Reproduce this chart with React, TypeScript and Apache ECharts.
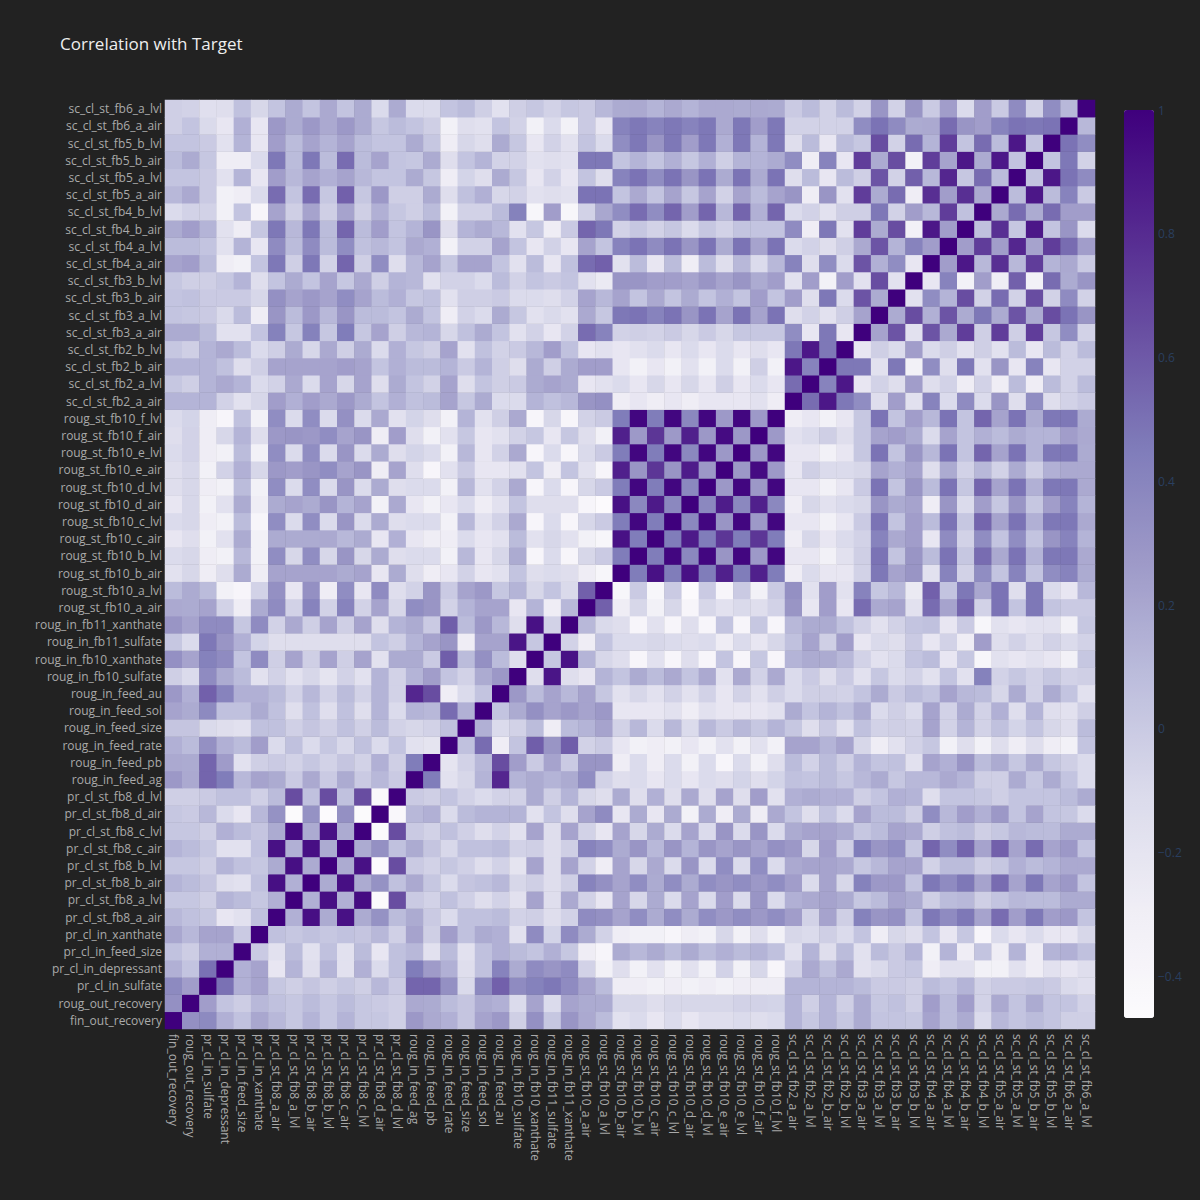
import React, { useEffect, useRef } from "react";
import * as echarts from "echarts";

const labels: string[] = [
  "fin_out_recovery", "roug_out_recovery", "pr_cl_in_sulfate", "pr_cl_in_depressant", "pr_cl_in_feed_size", "pr_cl_in_xanthate",
  "pr_cl_st_fb8_a_air", "pr_cl_st_fb8_a_lvl", "pr_cl_st_fb8_b_air", "pr_cl_st_fb8_b_lvl", "pr_cl_st_fb8_c_air", "pr_cl_st_fb8_c_lvl",
  "pr_cl_st_fb8_d_air", "pr_cl_st_fb8_d_lvl", "roug_in_feed_ag", "roug_in_feed_pb", "roug_in_feed_rate", "roug_in_feed_size",
  "roug_in_feed_sol", "roug_in_feed_au", "roug_in_fb10_sulfate", "roug_in_fb10_xanthate", "roug_in_fb11_sulfate", "roug_in_fb11_xanthate",
  "roug_st_fb10_a_air", "roug_st_fb10_a_lvl", "roug_st_fb10_b_air", "roug_st_fb10_b_lvl", "roug_st_fb10_c_air", "roug_st_fb10_c_lvl",
  "roug_st_fb10_d_air", "roug_st_fb10_d_lvl", "roug_st_fb10_e_air", "roug_st_fb10_e_lvl", "roug_st_fb10_f_air", "roug_st_fb10_f_lvl",
  "sc_cl_st_fb2_a_air", "sc_cl_st_fb2_a_lvl", "sc_cl_st_fb2_b_air", "sc_cl_st_fb2_b_lvl", "sc_cl_st_fb3_a_air", "sc_cl_st_fb3_a_lvl",
  "sc_cl_st_fb3_b_air", "sc_cl_st_fb3_b_lvl", "sc_cl_st_fb4_a_air", "sc_cl_st_fb4_a_lvl", "sc_cl_st_fb4_b_air", "sc_cl_st_fb4_b_lvl",
  "sc_cl_st_fb5_a_air", "sc_cl_st_fb5_a_lvl", "sc_cl_st_fb5_b_air", "sc_cl_st_fb5_b_lvl", "sc_cl_st_fb6_a_air", "sc_cl_st_fb6_a_lvl",
];

// Lower triangle of the correlation matrix: row j holds correlations with columns 0..j-1
const corrLower: number[][] = [
  [],
  [0.33],
  [0.37, 0.25],
  [0.15, 0.04, 0.5],
  [0.05, -0.02, 0.15, 0.15],
  [0.2, 0.11, 0.22, 0.22, 0.0],
  [0.11, 0.06, 0.02, -0.22, -0.17, 0.06],
  [0.02, 0.02, -0.03, 0.13, 0.09, 0.02, 0.15],
  [0.13, 0.09, 0.03, -0.14, -0.17, 0.06, 0.93, 0.15],
  [0.02, 0.02, -0.03, 0.13, 0.06, 0.02, 0.18, 0.93, 0.18],
  [0.13, 0.09, 0.02, -0.17, -0.17, 0.05, 0.92, 0.15, 0.93, 0.18],
  [0.02, 0.02, -0.03, 0.15, 0.09, 0.03, 0.18, 0.95, 0.18, 0.92, 0.18],
  [0.02, 0.0, 0.11, -0.11, -0.22, 0.11, 0.32, -0.45, 0.32, -0.46, 0.33, -0.45],
  [-0.03, -0.03, 0.0, 0.06, 0.06, -0.04, 0.09, 0.65, 0.06, 0.65, 0.06, 0.65, -0.42],
  [0.28, 0.19, 0.55, 0.45, 0.11, 0.22, 0.18, 0.0, 0.19, 0.0, 0.18, 0.0, 0.11, 0.0],
  [0.19, 0.18, 0.55, 0.26, -0.17, -0.03, 0.0, -0.05, 0.02, -0.05, 0.03, -0.05, 0.15, -0.03, 0.45],
  [0.15, 0.09, 0.33, 0.15, 0.09, 0.25, -0.11, 0.06, -0.11, 0.02, -0.09, 0.06, -0.11, 0.04, -0.17, -0.2],
  [0.03, 0.03, -0.1, -0.14, -0.17, 0.06, 0.06, -0.04, 0.03, -0.04, 0.06, -0.04, 0.09, -0.05, -0.08, -0.05, 0.06],
  [0.22, 0.18, 0.37, 0.06, 0.06, 0.18, 0.06, -0.14, 0.06, -0.14, 0.06, -0.14, 0.13, -0.11, 0.13, 0.11, 0.52, 0.15],
  [0.28, 0.15, 0.57, 0.41, 0.15, 0.15, 0.09, -0.05, 0.11, -0.05, 0.09, -0.05, 0.13, -0.05, 0.82, 0.65, -0.28, -0.11, 0.04],
  [-0.03, -0.11, 0.36, 0.18, 0.09, -0.17, -0.05, -0.17, -0.08, -0.2, -0.05, -0.17, 0.13, -0.05, 0.13, 0.25, 0.04, -0.05, 0.18, 0.28],
  [0.33, 0.22, 0.42, 0.36, 0.04, 0.36, -0.03, 0.22, -0.03, 0.22, -0.03, 0.22, -0.17, 0.18, 0.18, 0.0, 0.58, 0.09, 0.33, 0.09, -0.14],
  [0.02, -0.11, 0.47, 0.3, 0.15, -0.06, -0.14, -0.14, -0.14, -0.14, -0.14, -0.14, 0.04, -0.03, 0.13, 0.22, 0.3, -0.28, 0.22, 0.22, 0.9, 0.02],
  [0.3, 0.22, 0.36, 0.36, 0.02, 0.36, -0.05, 0.19, -0.03, 0.22, -0.03, 0.22, -0.14, 0.13, 0.18, 0.0, 0.58, 0.09, 0.28, 0.11, -0.14, 0.92, -0.05],
  [0.19, 0.18, 0.22, -0.05, -0.28, 0.18, 0.36, -0.05, 0.41, -0.05, 0.41, -0.05, 0.22, -0.08, 0.35, 0.3, -0.05, 0.13, 0.22, 0.22, -0.22, 0.13, -0.28, 0.11],
  [0.09, 0.18, 0.09, -0.33, -0.39, -0.05, 0.33, -0.22, 0.33, -0.28, 0.35, -0.22, 0.36, -0.14, -0.05, 0.3, 0.0, 0.22, 0.28, 0.02, 0.13, -0.08, 0.04, -0.1, 0.57],
  [-0.17, -0.08, -0.28, -0.14, 0.18, -0.28, 0.22, 0.22, 0.22, 0.22, 0.18, 0.22, -0.22, 0.18, -0.14, -0.28, -0.22, -0.05, -0.22, -0.17, 0.04, -0.14, -0.11, -0.14, -0.28, -0.4],
  [-0.11, -0.08, -0.28, -0.33, 0.11, -0.33, 0.35, -0.08, 0.35, -0.08, 0.3, -0.08, 0.18, -0.14, -0.11, -0.11, -0.33, 0.11, -0.22, -0.08, 0.18, -0.39, -0.11, -0.39, -0.08, 0.0, 0.45],
  [-0.22, -0.14, -0.33, -0.17, 0.18, -0.33, 0.18, 0.18, 0.18, 0.19, 0.11, 0.18, -0.22, 0.15, -0.22, -0.28, -0.28, -0.11, -0.22, -0.17, 0.09, -0.17, -0.08, -0.17, -0.33, -0.4, 0.92, 0.45],
  [-0.11, -0.08, -0.28, -0.33, 0.09, -0.39, 0.35, -0.11, 0.35, -0.11, 0.3, -0.11, 0.18, -0.14, -0.11, -0.11, -0.33, 0.11, -0.17, -0.05, 0.19, -0.39, -0.11, -0.39, -0.08, 0.0, 0.45, 0.97, 0.45],
  [-0.22, -0.08, -0.33, -0.17, 0.18, -0.28, 0.18, 0.22, 0.18, 0.3, 0.13, 0.22, -0.33, 0.19, -0.22, -0.33, -0.22, -0.11, -0.28, -0.17, 0.04, -0.14, -0.14, -0.14, -0.39, -0.46, 0.92, 0.38, 0.88, 0.38],
  [-0.14, -0.08, -0.28, -0.33, 0.09, -0.33, 0.35, -0.11, 0.35, -0.11, 0.3, -0.11, 0.18, -0.14, -0.11, -0.11, -0.33, 0.11, -0.17, -0.05, 0.19, -0.39, -0.11, -0.39, -0.08, 0.0, 0.45, 0.97, 0.45, 0.97, 0.38],
  [-0.14, -0.08, -0.33, -0.05, 0.15, -0.08, 0.28, 0.25, 0.3, 0.35, 0.22, 0.3, -0.28, 0.22, -0.14, -0.39, -0.17, 0.0, -0.22, -0.22, -0.17, 0.04, -0.28, 0.04, -0.17, -0.39, 0.85, 0.3, 0.75, 0.3, 0.87, 0.28],
  [-0.11, -0.05, -0.28, -0.33, 0.09, -0.33, 0.35, -0.11, 0.35, -0.11, 0.3, -0.11, 0.18, -0.14, -0.06, -0.11, -0.33, 0.11, -0.22, -0.05, 0.19, -0.39, -0.11, -0.39, -0.1, 0.0, 0.45, 0.97, 0.45, 0.97, 0.38, 0.97, 0.28],
  [-0.14, -0.05, -0.28, -0.08, 0.13, -0.14, 0.28, 0.3, 0.28, 0.35, 0.22, 0.3, -0.28, 0.25, -0.14, -0.33, -0.17, 0.02, -0.22, -0.17, -0.05, 0.02, -0.22, 0.02, -0.14, -0.33, 0.85, 0.27, 0.75, 0.27, 0.85, 0.28, 0.95, 0.28],
  [-0.11, -0.06, -0.28, -0.39, 0.06, -0.33, 0.35, -0.11, 0.35, -0.11, 0.33, -0.11, 0.19, -0.17, -0.06, -0.14, -0.33, 0.13, -0.17, -0.03, 0.19, -0.39, -0.08, -0.39, -0.05, 0.0, 0.45, 0.97, 0.45, 0.97, 0.38, 0.97, 0.27, 0.97, 0.27],
  [0.13, 0.13, 0.13, -0.05, -0.17, -0.08, 0.25, 0.15, 0.25, 0.19, 0.28, 0.18, 0.04, 0.15, 0.06, 0.09, 0.22, 0.02, 0.18, -0.11, -0.11, 0.13, 0.06, 0.11, 0.3, 0.33, -0.28, -0.22, -0.28, -0.22, -0.28, -0.22, -0.22, -0.22, -0.17, -0.28],
  [0.02, -0.03, 0.13, 0.19, 0.13, -0.11, -0.05, 0.19, -0.11, 0.22, -0.08, 0.22, -0.14, 0.18, 0.04, -0.05, 0.22, -0.14, 0.04, -0.03, 0.0, 0.18, 0.22, 0.18, -0.22, -0.17, -0.11, -0.22, -0.08, -0.22, -0.08, -0.22, -0.03, -0.22, -0.11, -0.22, 0.52],
  [0.13, 0.13, 0.13, 0.06, -0.14, -0.03, 0.22, 0.22, 0.22, 0.22, 0.25, 0.22, 0.04, 0.15, 0.09, 0.09, 0.13, 0.0, 0.13, -0.03, -0.14, 0.18, -0.03, 0.18, 0.25, 0.25, -0.22, -0.33, -0.22, -0.33, -0.17, -0.33, -0.11, -0.33, -0.03, -0.33, 0.89, 0.41],
  [0.02, -0.03, 0.13, 0.19, 0.09, -0.11, -0.03, 0.18, -0.08, 0.19, -0.03, 0.18, -0.11, 0.15, 0.02, -0.03, 0.22, -0.17, 0.06, -0.05, 0.0, 0.11, 0.25, 0.06, -0.22, -0.17, -0.22, -0.17, -0.11, -0.22, -0.11, -0.22, -0.11, -0.22, -0.14, -0.22, 0.47, 0.89, 0.47],
  [0.18, 0.18, 0.09, -0.17, -0.17, 0.04, 0.42, 0.02, 0.42, 0.02, 0.45, 0.02, 0.22, -0.03, 0.11, 0.13, -0.08, 0.06, 0.18, 0.04, -0.17, -0.05, -0.22, -0.05, 0.52, 0.41, -0.05, -0.03, -0.05, 0.0, -0.08, 0.0, -0.08, 0.02, 0.02, 0.02, 0.35, -0.22, 0.47, -0.22],
  [0.04, 0.02, 0.0, -0.1, 0.09, -0.28, 0.3, 0.09, 0.28, 0.11, 0.3, 0.09, 0.09, 0.04, 0.18, 0.04, -0.28, -0.05, -0.11, 0.18, 0.02, -0.17, -0.1, -0.17, 0.19, 0.02, 0.47, 0.49, 0.41, 0.49, 0.3, 0.49, 0.22, 0.49, 0.22, 0.49, -0.14, -0.05, -0.17, -0.03, 0.22],
  [0.04, 0.06, 0.0, 0.0, 0.0, -0.08, 0.33, 0.22, 0.28, 0.22, 0.35, 0.22, 0.09, 0.15, 0.02, 0.06, -0.17, -0.03, -0.03, 0.0, -0.11, -0.11, -0.14, -0.05, 0.22, 0.11, 0.22, 0.04, 0.19, 0.04, 0.18, 0.04, 0.15, 0.04, 0.25, 0.04, 0.25, -0.14, 0.47, -0.11, 0.62, 0.18],
  [0.02, -0.03, -0.03, 0.02, 0.13, -0.14, 0.04, 0.18, 0.04, 0.22, 0.02, 0.19, -0.03, 0.13, 0.11, -0.17, -0.05, -0.05, -0.11, 0.09, -0.05, 0.04, 0.0, 0.04, -0.17, -0.25, 0.3, 0.3, 0.25, 0.25, 0.22, 0.3, 0.22, 0.3, 0.18, 0.25, -0.17, 0.25, -0.33, 0.25, -0.17, 0.65, -0.17],
  [0.22, 0.25, 0.09, -0.28, -0.33, 0.04, 0.47, -0.03, 0.47, -0.05, 0.55, -0.03, 0.35, -0.14, 0.11, 0.22, 0.02, 0.22, 0.22, 0.04, -0.17, 0.09, -0.22, 0.06, 0.52, 0.57, -0.17, 0.09, -0.22, 0.09, -0.28, 0.09, -0.14, 0.11, -0.11, 0.11, 0.41, -0.14, 0.35, -0.11, 0.62, 0.15, 0.35, -0.22],
  [0.09, 0.09, 0.04, -0.17, 0.13, -0.22, 0.36, 0.09, 0.36, 0.09, 0.35, 0.06, 0.11, 0.04, 0.19, 0.15, -0.33, -0.05, -0.05, 0.22, 0.04, -0.22, -0.05, -0.22, 0.22, 0.04, 0.41, 0.49, 0.36, 0.49, 0.3, 0.49, 0.18, 0.49, 0.22, 0.49, -0.11, -0.05, -0.14, -0.03, 0.19, 0.62, 0.13, 0.41, 0.25],
  [0.18, 0.25, 0.13, -0.17, -0.28, 0.02, 0.47, 0.11, 0.47, 0.09, 0.55, 0.09, 0.25, 0.04, 0.13, 0.3, -0.14, 0.13, 0.18, 0.11, -0.17, 0.02, -0.28, 0.0, 0.55, 0.47, -0.05, 0.02, -0.05, 0.02, -0.11, 0.02, -0.05, 0.04, 0.04, 0.04, 0.36, -0.28, 0.47, -0.17, 0.72, 0.18, 0.65, -0.33, 0.89, 0.25],
  [-0.11, -0.05, -0.05, -0.33, 0.04, -0.39, 0.22, -0.03, 0.22, -0.03, 0.22, -0.03, 0.15, 0.02, -0.03, 0.09, -0.33, -0.05, -0.05, 0.09, 0.42, -0.4, 0.25, -0.4, -0.05, 0.2, 0.35, 0.52, 0.35, 0.55, 0.25, 0.55, 0.11, 0.55, 0.15, 0.55, -0.11, -0.05, -0.17, -0.03, -0.03, 0.47, -0.05, 0.25, 0.11, 0.72, 0.06],
  [0.11, 0.19, 0.0, -0.33, -0.28, -0.11, 0.52, 0.04, 0.52, 0.02, 0.57, 0.02, 0.28, -0.03, -0.03, 0.18, -0.14, 0.06, 0.15, -0.08, -0.05, -0.17, -0.14, -0.17, 0.49, 0.49, 0.04, 0.19, 0.04, 0.22, 0.02, 0.22, -0.05, 0.22, 0.09, 0.22, 0.3, -0.28, 0.3, -0.17, 0.72, 0.18, 0.52, -0.28, 0.78, 0.25, 0.78, 0.19],
  [0.04, 0.04, 0.0, -0.17, 0.13, -0.22, 0.25, 0.11, 0.22, 0.15, 0.22, 0.11, 0.04, 0.04, 0.18, 0.02, -0.28, -0.06, -0.14, 0.18, 0.02, -0.22, -0.05, -0.22, 0.04, -0.14, 0.41, 0.49, 0.35, 0.49, 0.3, 0.49, 0.18, 0.49, 0.18, 0.49, -0.14, 0.09, -0.22, 0.09, -0.03, 0.62, -0.05, 0.57, 0.11, 0.82, 0.02, 0.52, 0.09],
  [0.09, 0.18, 0.02, -0.28, -0.28, -0.11, 0.47, 0.09, 0.47, 0.09, 0.52, 0.09, 0.22, 0.04, 0.02, 0.18, -0.14, 0.04, 0.13, -0.05, -0.05, -0.17, -0.14, -0.17, 0.47, 0.47, 0.04, 0.13, 0.04, 0.15, 0.02, 0.15, -0.03, 0.13, 0.13, 0.18, 0.35, -0.28, 0.41, -0.22, 0.72, 0.18, 0.65, -0.33, 0.72, 0.22, 0.89, 0.18, 0.89, 0.04],
  [0.04, 0.04, 0.0, -0.17, 0.13, -0.22, 0.25, 0.09, 0.22, 0.13, 0.22, 0.09, 0.04, 0.04, 0.18, 0.02, -0.28, -0.08, -0.14, 0.18, 0.02, -0.22, -0.05, -0.17, 0.04, -0.11, 0.35, 0.47, 0.3, 0.47, 0.25, 0.47, 0.15, 0.47, 0.13, 0.47, -0.14, 0.09, -0.22, 0.09, 0.02, 0.65, -0.05, 0.52, 0.13, 0.72, 0.04, 0.52, 0.09, 0.89, 0.04],
  [-0.03, 0.04, -0.1, -0.22, 0.15, -0.22, 0.28, 0.18, 0.28, 0.19, 0.28, 0.18, 0.02, 0.09, 0.04, -0.03, -0.33, -0.14, -0.17, 0.04, -0.05, -0.33, -0.11, -0.33, 0.0, -0.22, 0.41, 0.47, 0.41, 0.47, 0.41, 0.47, 0.19, 0.47, 0.25, 0.47, -0.05, -0.05, -0.05, -0.05, 0.35, 0.49, 0.36, 0.18, 0.19, 0.52, 0.3, 0.25, 0.41, 0.49, 0.47, 0.49],
  [-0.03, -0.05, -0.15, -0.14, 0.06, -0.08, 0.04, 0.18, 0.04, 0.19, 0.04, 0.18, -0.11, 0.18, -0.11, -0.11, 0.04, 0.09, -0.03, -0.17, -0.03, 0.02, -0.05, 0.02, 0.0, 0.11, 0.18, 0.19, 0.13, 0.19, 0.13, 0.19, 0.19, 0.18, 0.19, 0.18, 0.0, 0.09, -0.05, 0.09, -0.05, 0.3, -0.05, 0.3, 0.0, 0.25, -0.11, 0.25, 0.0, 0.36, -0.05, 0.35, 0.11],
];

const colorTicks: number[] = [-0.4, -0.2, 0, 0.2, 0.4, 0.6, 0.8, 1];
const scaleMin = -0.467;
const scaleMax = 1;
const purples: string[] = [
  "rgb(252,251,253)", "rgb(239,237,245)", "rgb(218,218,235)", "rgb(188,189,220)", "rgb(158,154,200)",
  "rgb(128,125,186)", "rgb(106,81,163)", "rgb(84,39,143)", "rgb(63,0,125)",
];

function buildCells(): [number, number, number][] {
  const cells: [number, number, number][] = [];
  const n = labels.length;
  for (let j = 0; j < n; j++) {
    for (let i = 0; i < n; i++) {
      let v = 1;
      if (i < j) v = corrLower[j][i];
      else if (i > j) v = corrLower[i][j];
      cells.push([i, j, v]);
    }
  }
  return cells;
}

const FONT = "'Open Sans', 'Noto Sans', sans-serif";

export default function App() {
  const ref = useRef<HTMLDivElement>(null);
  useEffect(() => {
    document.body.style.margin = "0";
    document.body.style.background = "#222222";
    if (!ref.current) return;
    const chart = echarts.init(ref.current, undefined, { renderer: "svg" });
    const gridLeft = 165, gridTop = 100, gridW = 930, gridH = 929;
    const cbLeft = 1124, cbTop = 110, cbW = 30, cbH = 908;
    chart.setOption({
      animation: false,
      backgroundColor: "#222222",
      title: {
        text: "Correlation with Target",
        left: 55,
        top: 30,
        textStyle: { color: "#eeeeee", fontSize: 17, fontWeight: "normal", fontFamily: FONT },
      },
      grid: [
        { left: gridLeft, top: gridTop, width: gridW, height: gridH },
        { left: cbLeft, top: cbTop, width: cbW, height: cbH },
      ],
      xAxis: [
        {
          type: "category",
          data: labels,
          gridIndex: 0,
          axisLine: { show: false },
          axisTick: { show: false },
          splitLine: { show: false },
          axisLabel: { interval: 0, rotate: -90, color: "#aaaaaa", fontSize: 12, margin: 5, fontFamily: FONT },
        },
        { type: "value", gridIndex: 1, show: false, min: 0, max: 1 },
      ],
      yAxis: [
        {
          type: "category",
          data: labels,
          gridIndex: 0,
          axisLine: { show: false },
          axisTick: { show: false },
          splitLine: { show: false },
          axisLabel: { interval: 0, color: "#aaaaaa", fontSize: 12, margin: 3, fontFamily: FONT },
        },
        {
          type: "value",
          gridIndex: 1,
          min: scaleMin,
          max: scaleMax,
          position: "right",
          axisLine: { show: false },
          axisTick: { show: false },
          splitLine: { show: false },
          axisLabel: {
            customValues: colorTicks,
            color: "#2a3f5f",
            fontSize: 12,
            margin: 4,
            fontFamily: FONT,
            formatter: (v: number) => {
              const r = Math.round(v * 10) / 10;
              return r < 0 ? "\u2212" + String(Math.abs(r)) : String(r);
            },
          },
        },
      ],
      visualMap: {
        type: "continuous",
        seriesIndex: 0,
        min: scaleMin,
        max: scaleMax,
        calculable: false,
        hoverLink: false,
        orient: "vertical",
        left: cbLeft,
        top: cbTop,
        itemWidth: cbW,
        itemHeight: cbH,
        padding: 0,
        showLabel: false,
        inRange: { color: purples },
      },
      series: [
        {
          type: "heatmap",
          xAxisIndex: 0,
          yAxisIndex: 0,
          data: buildCells(),
          progressive: 0,
          emphasis: { disabled: true },
        },
        { type: "line", xAxisIndex: 1, yAxisIndex: 1, data: [], silent: true },
      ],
    });
    return () => chart.dispose();
  }, []);
  return <div ref={ref} style={{ width: 1200, height: 1200 }} />;
}
